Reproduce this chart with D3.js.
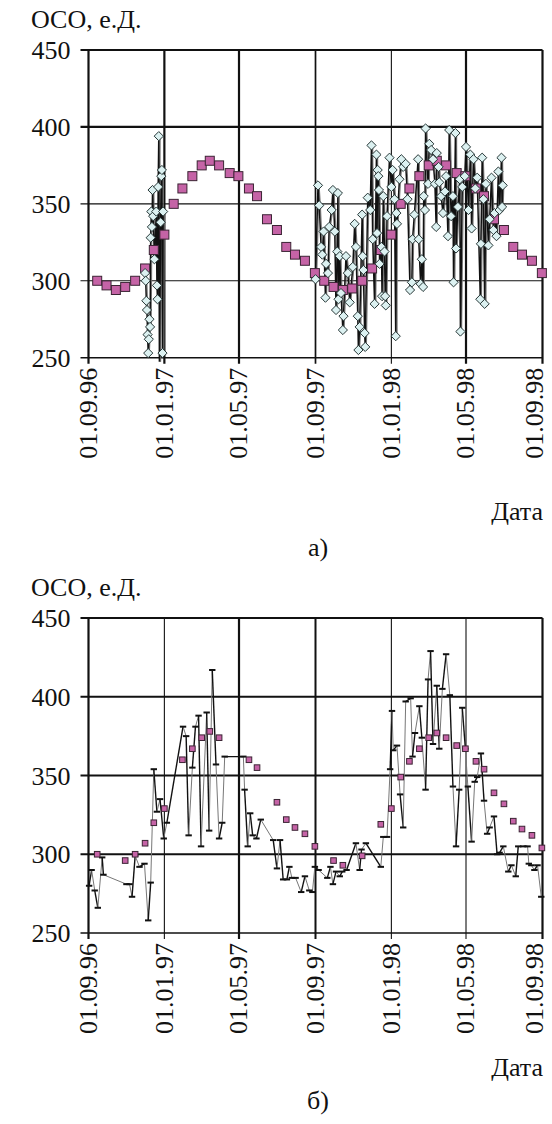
<!DOCTYPE html>
<html><head><meta charset="utf-8">
<script src="https://cdn.jsdelivr.net/npm/d3@7"></script>
<style>
body{margin:0;background:#fff}
svg{display:block}
svg text{font-family:"Liberation Serif","LiberationSerif","Tinos","Times New Roman","Times","Nimbus Roman","Nimbus Roman No9 L","FreeSerif","DejaVu Serif","Noto Serif",serif;fill:#111}
</style>
</head><body>
<svg id="c" width="552" height="1124"></svg>
<script>
// ---------------- DATA ----------------
const xTickDates  = ["1996-09-01","1997-01-01","1997-05-01","1997-09-01","1998-01-01","1998-05-01","1998-09-01"];
const xTickLabels = ["01.09.96","01.01.97","01.05.97","01.09.97","01.01.98","01.05.98","01.09.98"];
const yTicks = [250, 300, 350, 400, 450];

// (a) norm (pink squares)
const normDatesA = [
 "1996-09-15","1996-09-30","1996-10-15","1996-10-30","1996-11-15","1996-12-01","1996-12-15","1997-01-01",
 "1997-01-16","1997-01-30","1997-02-15","1997-03-02","1997-03-15","1997-03-30","1997-04-16","1997-04-30",
 "1997-05-17","1997-05-30","1997-06-15","1997-07-01","1997-07-16","1997-07-30","1997-08-15","1997-08-31",
 "1997-09-15","1997-09-30","1997-10-15","1997-10-30","1997-11-15","1997-12-01","1997-12-15","1998-01-01",
 "1998-01-16","1998-01-30","1998-02-15","1998-03-02","1998-03-15","1998-03-30","1998-04-16","1998-04-30",
 "1998-05-17","1998-05-30","1998-06-15","1998-07-01","1998-07-16","1998-07-30","1998-08-15","1998-08-31"];
const normValuesA = [
 300,297,294,296,300,308,320,330, 350,360,368,375,378,375,370,368, 360,355,340,333,322,317,313,305,
 300,296,294,295,300,308,320,330, 350,360,368,375,378,375,370,368, 360,355,340,333,322,317,313,305];

// (a) daily observations, winter 1996
const dailyDatesA1 = [
 "1996-12-01","1996-12-02","1996-12-03","1996-12-04","1996-12-05","1996-12-06","1996-12-07","1996-12-08",
 "1996-12-09","1996-12-10","1996-12-11","1996-12-12","1996-12-13","1996-12-14","1996-12-16","1996-12-19",
 "1996-12-20","1996-12-21","1996-12-22","1996-12-23","1996-12-24","1996-12-26","1996-12-27","1996-12-28",
 "1996-12-29","1996-12-30"];
const dailyValuesA1 = [
 305,300,287,281,265,253,262,275, 270,328,345,335,359,342,314,345,
 297,288,361,394,245,338,368,372, 253,345];

// (a) daily observations, 1997-98
const dailyDatesA2 = [
 "1997-09-01","1997-09-05","1997-09-07","1997-09-10","1997-09-12","1997-09-14","1997-09-17","1997-09-18",
 "1997-09-21","1997-09-23","1997-09-27","1997-09-29","1997-10-02","1997-10-04","1997-10-06","1997-10-07",
 "1997-10-08","1997-10-10","1997-10-12","1997-10-15","1997-10-16","1997-10-20","1997-10-23","1997-10-26",
 "1997-10-31","1997-11-03","1997-11-05","1997-11-08","1997-11-09","1997-11-11","1997-11-15","1997-11-16",
 "1997-11-17","1997-11-19","1997-11-20","1997-11-24","1997-11-28","1997-11-30","1997-12-02","1997-12-05",
 "1997-12-08","1997-12-09","1997-12-10","1997-12-11","1997-12-12","1997-12-13","1997-12-16","1997-12-17",
 "1997-12-19","1997-12-21","1997-12-22","1997-12-23","1997-12-25","1997-12-29","1998-01-01","1998-01-03",
 "1998-01-06","1998-01-08","1998-01-09","1998-01-10","1998-01-14","1998-01-17","1998-01-20","1998-01-24",
 "1998-01-27","1998-01-31","1998-02-03","1998-02-04","1998-02-07","1998-02-13","1998-02-14","1998-02-17",
 "1998-02-19","1998-02-21","1998-02-22","1998-02-24","1998-02-25","1998-03-01","1998-03-03","1998-03-06",
 "1998-03-09","1998-03-12","1998-03-14","1998-03-15","1998-03-18","1998-03-19","1998-03-22","1998-03-25",
 "1998-03-28","1998-03-30","1998-04-02","1998-04-04","1998-04-07","1998-04-10","1998-04-11","1998-04-14",
 "1998-04-15","1998-04-18","1998-04-21","1998-04-22","1998-04-25","1998-04-29","1998-05-01","1998-05-05",
 "1998-05-08","1998-05-10","1998-05-13","1998-05-16","1998-05-19","1998-05-24","1998-05-25","1998-05-27",
 "1998-05-29","1998-05-31","1998-06-02","1998-06-06","1998-06-08","1998-06-11","1998-06-14","1998-06-16",
 "1998-06-19","1998-06-22","1998-06-24","1998-06-27","1998-06-28","1998-06-29"];
const dailyValuesA2 = [
 301,362,349,322,317,332,289,311, 305,335,346,359,332,281,319,357,
 288,316,292,268,277,316,305,286, 309,337,322,277,255,270,343,316,
 307,266,257,354,346,388,327,285, 382,331,372,368,359,311,322,290,
 355,319,290,284,342,380,361,372, 353,264,344,337,366,379,374,376,
 353,294,299,327,343,379,327,298, 314,296,355,346,399,363,389,385,
 379,363,335,383,374,364,355,344, 358,368,329,398,342,355,299,396,
 321,348,366,267,361,368,387,346, 382,334,379,360,367,288,324,380,
 353,285,363,323,340,367,333,344, 329,371,346,380,348,362];

// (б) norm (pink squares)
const normDatesB = [
 "1996-09-15","1996-10-30","1996-11-15","1996-12-01","1996-12-15","1997-01-01","1997-01-30","1997-02-15",
 "1997-03-02","1997-03-15","1997-03-30","1997-05-17","1997-05-30","1997-07-01","1997-07-16","1997-07-30",
 "1997-08-15","1997-08-31","1997-09-30","1997-10-15","1997-11-15","1997-12-15","1998-01-01","1998-01-16",
 "1998-01-30","1998-02-15","1998-03-02","1998-03-15","1998-03-30","1998-04-16","1998-04-30","1998-05-17",
 "1998-05-30","1998-06-15","1998-07-01","1998-07-16","1998-07-30","1998-08-15","1998-08-31"];
const normValuesB = [
 300,296,300,307,320,329,360,367, 374,378,374,360,355,333,322,317,
 313,305,296,293,299,319,329,349, 359,367,374,377,374,369,367,359,
 354,339,332,321,316,312,304];

// (б) observations
const obsDatesB = [
 "1996-09-02","1996-09-06","1996-09-11","1996-09-16","1996-09-23","1996-09-25","1996-11-01","1996-11-06",
 "1996-11-10","1996-11-15","1996-11-22","1996-11-30","1996-12-06","1996-12-10","1996-12-15","1996-12-20",
 "1996-12-25","1996-12-31","1997-01-05","1997-01-31","1997-02-05","1997-02-09","1997-02-15","1997-02-20",
 "1997-02-25","1997-03-01","1997-03-10","1997-03-14","1997-03-19","1997-03-25","1997-03-30","1997-04-04",
 "1997-04-08","1997-05-08","1997-05-10","1997-05-15","1997-05-19","1997-05-23","1997-05-29","1997-06-05",
 "1997-06-25","1997-07-01","1997-07-06","1997-07-11","1997-07-17","1997-07-21","1997-07-25","1997-07-31",
 "1997-08-09","1997-08-15","1997-08-22","1997-08-27","1997-08-31","1997-09-06","1997-09-20","1997-09-25",
 "1997-09-29","1997-10-04","1997-10-10","1997-10-14","1997-10-21","1997-11-05","1997-11-11","1997-11-14",
 "1997-11-21","1997-12-15","1997-12-19","1997-12-25","1997-12-30","1998-01-02","1998-01-04","1998-01-10",
 "1998-01-15","1998-01-20","1998-01-24","1998-02-01","1998-02-04","1998-02-08","1998-02-15","1998-02-19",
 "1998-02-25","1998-03-01","1998-03-05","1998-03-09","1998-03-15","1998-03-19","1998-03-24","1998-03-30",
 "1998-04-05","1998-04-10","1998-04-15","1998-04-20","1998-04-25","1998-04-30","1998-05-04","1998-05-10",
 "1998-05-15","1998-05-19","1998-05-25","1998-05-30","1998-06-04","1998-06-08","1998-06-15","1998-06-20",
 "1998-06-24","1998-06-30","1998-07-08","1998-07-13","1998-07-20","1998-07-24","1998-08-01","1998-08-08",
 "1998-08-10","1998-08-14","1998-08-19","1998-08-24","1998-08-30"];
const obsValuesB = [
 280,290,277,266,298,287,281,281, 273,299,292,294,258,282,354,327,
 335,310,320,381,375,312,355,381, 388,305,390,315,417,357,310,320,
 362,362,341,305,326,312,310,322, 309,291,309,284,284,292,285,285,
 276,286,277,276,292,290,285,292, 281,289,286,289,290,307,290,303,
 307,292,311,311,354,391,366,369, 338,317,397,399,362,377,394,374,
 341,411,429,370,407,367,405,427, 401,343,305,341,393,367,343,308,
 346,349,364,334,313,317,324,300, 301,305,289,293,286,305,305,305,
 294,293,290,293,273];

// ---------------- DRAWING ----------------
const parse = d3.timeParse("%Y-%m-%d");
const svg = d3.select("#c");
const PINK = "#c563a6", PINK_STROKE = "#3b2434";

function zip(ds, vs){ return ds.map((d,i)=>({date:parse(d), value:vs[i]})); }

function panel(cfg){
  const g = svg.append("g");
  const x = d3.scaleTime().domain([parse(xTickDates[0]), parse(xTickDates[xTickDates.length-1])]).range([cfg.left, cfg.right]);
  const y = d3.scaleLinear().domain([250, 450]).range([cfg.bottom, cfg.top]);

  // grid
  g.selectAll("line.vg").data(xTickDates).join("line")
    .attr("x1", d=>x(parse(d))).attr("x2", d=>x(parse(d)))
    .attr("y1", cfg.top).attr("y2", cfg.bottom+6)
    .attr("stroke","#111").attr("stroke-width",(d,i)=>cfg.vW[i]);
  g.selectAll("line.hg").data(yTicks).join("line")
    .attr("x1", cfg.left-8).attr("x2", cfg.right)
    .attr("y1", d=>y(d)).attr("y2", d=>y(d))
    .attr("stroke","#111").attr("stroke-width",(d,i)=>cfg.hW[i]);

  // y labels
  g.selectAll("text.yl").data(yTicks).join("text")
    .attr("x", cfg.left-18).attr("y", d=>y(d)).attr("dy","0.35em")
    .attr("text-anchor","end").attr("font-size",26).text(d=>d);
  // x labels
  g.selectAll("text.xl").data(xTickDates).join("text")
    .attr("transform", (d,i)=>`translate(${Math.min(x(parse(d)), 535)},${cfg.bottom+10}) rotate(-90)`)
    .attr("dy","0.32em").attr("text-anchor","end").attr("font-size",26)
    .text((d,i)=>xTickLabels[i]);

  g.append("text").attr("x",31).attr("y",cfg.titleY).attr("font-size",26).text("ОСО, е.Д.");
  g.append("text").attr("x",543).attr("y",cfg.dateY).attr("text-anchor","end").attr("font-size",26).text("Дата");
  g.append("text").attr("x",318).attr("y",cfg.capY).attr("text-anchor","middle").attr("font-size",26).text(cfg.cap);

  const clipId = "clip"+cfg.id;
  svg.append("clipPath").attr("id",clipId).append("rect")
    .attr("x",cfg.left).attr("y",cfg.top).attr("width",cfg.right-cfg.left).attr("height",cfg.bottom-cfg.top+4);
  return {g, x, y, clip:`url(#${clipId})`};
}

// ---- panel a ----
const A = panel({id:"a", left:88.5, right:542.5, top:50, bottom:357.7,
  vW:[2.2,2.2,2.2,1.7,1.1,2.2,2.2], hW:[1.6,1.1,1.1,2.2,2.2],
  titleY:28, dateY:520, capY:556, cap:"а)"});
{
  const {g,x,y,clip} = A;
  const line = d3.line().x(d=>x(d.date)).y(d=>y(d.value));
  const s1 = zip(dailyDatesA1, dailyValuesA1), s2 = zip(dailyDatesA2, dailyValuesA2);
  [s1,s2].forEach(s=>{
    g.append("path").datum(s).attr("d",line).attr("fill","none")
      .attr("stroke","#777").attr("stroke-width",1).attr("clip-path",clip).attr("transform","translate(1.2,0)");
    g.append("path").datum(s).attr("d",line).attr("fill","none")
      .attr("stroke","#111").attr("stroke-width",1.5).attr("clip-path",clip);
  });
  const norm = zip(normDatesA, normValuesA);
  g.selectAll("rect.na").data(norm).join("rect")
    .attr("x",d=>x(d.date)-4.5).attr("y",d=>y(d.value)-4.5).attr("width",9).attr("height",9)
    .attr("fill",PINK).attr("stroke",PINK_STROKE).attr("stroke-width",1);
  const diamonds = s1.concat(s2).filter(d=>d.value>=250);
  g.selectAll("path.dm").data(diamonds).join("path")
    .attr("d","M0,-4.6L4.6,0L0,4.6L-4.6,0Z")
    .attr("transform",d=>`translate(${x(d.date)},${y(d.value)})`)
    .attr("fill","#dcf1f1").attr("stroke","#263636").attr("stroke-width",1);
}

// ---- panel b ----
const B = panel({id:"b", left:88.5, right:542.5, top:618, bottom:933,
  vW:[2.2,1.1,2.2,2.0,1.1,1.1,2.2], hW:[1.3,2.2,2.2,2.2,2.2],
  titleY:596, dateY:1076, capY:1109, cap:"б)"});
{
  const {g,x,y,clip} = B;
  const obs = zip(obsDatesB, obsValuesB);
  const segs = d3.pairs(obs);
  g.selectAll("line.seg").data(segs).join("line")
    .attr("x1",d=>x(d[0].date)).attr("y1",d=>y(d[0].value))
    .attr("x2",d=>x(d[1].date)).attr("y2",d=>y(d[1].value))
    .attr("stroke",(d,i)=>i%2?"#777":"#111").attr("stroke-width",(d,i)=>i%2?1:1.4)
    .attr("clip-path",clip);
  g.selectAll("line.mk").data(obs).join("line")
    .attr("x1",d=>x(d.date)-3.2).attr("x2",d=>x(d.date)+3.2)
    .attr("y1",d=>y(d.value)).attr("y2",d=>y(d.value))
    .attr("stroke","#111").attr("stroke-width",2);
  const norm = zip(normDatesB, normValuesB);
  g.selectAll("rect.nb").data(norm).join("rect")
    .attr("x",d=>x(d.date)-2.8).attr("y",d=>y(d.value)-2.8).attr("width",5.6).attr("height",5.6)
    .attr("fill",PINK).attr("stroke",PINK_STROKE).attr("stroke-width",1);
}
</script>
</body></html>
